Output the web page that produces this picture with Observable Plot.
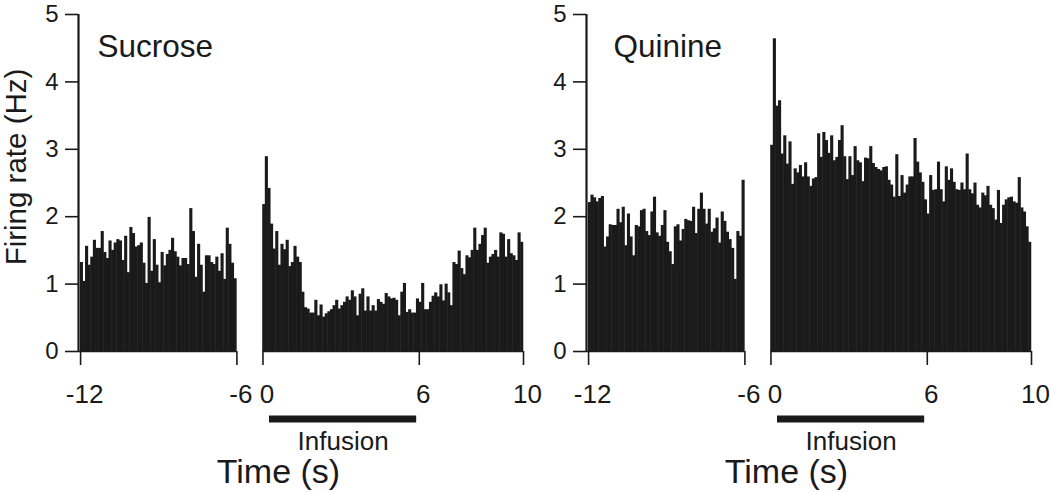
<!DOCTYPE html>
<html><head><meta charset="utf-8">
<script src="https://cdn.jsdelivr.net/npm/d3@7"></script>
<script src="https://cdn.jsdelivr.net/npm/@observablehq/plot@0.6"></script>
<style>
html,body{margin:0;padding:0;background:#fff;}
#wrap{position:relative;width:1050px;height:493px;overflow:hidden;background:#fff;}
#wrap svg{position:absolute;top:0;}
</style></head><body><div id="wrap"></div>
<script>
// ---- data (firing rate in Hz per 0.1 s bin) ----
const binWidth = 0.1;
const preStart = -12;   // pre-infusion window -12 .. -6 s
const postStart = 0;    // post window 0 .. 10 s
const sucrosePre = [
1.32,1.04,1.56,1.28,1.40,1.65,1.53,1.53,1.78,1.47,
1.38,1.64,1.50,1.61,1.66,1.64,1.35,1.71,1.17,1.84,
1.75,1.55,1.57,1.61,1.31,1.01,1.99,1.19,1.66,1.28,
1.02,1.47,1.27,1.44,1.50,1.68,1.48,1.40,1.27,1.38,
1.38,1.29,2.12,1.78,1.10,1.59,1.28,0.88,1.42,1.42,
1.32,1.29,1.40,1.19,1.45,1.07,1.83,1.59,1.31,1.08];
const sucrosePost = [
2.18,2.89,2.42,1.89,1.52,1.78,1.28,1.59,1.51,1.65,
1.26,1.32,1.56,1.40,1.32,0.88,0.65,0.63,0.57,0.57,
0.76,0.53,0.69,0.51,0.56,0.59,0.62,0.68,0.76,0.63,
0.68,0.73,0.81,0.76,0.90,0.81,0.53,0.85,0.93,0.60,
0.81,0.60,0.68,0.60,0.77,0.73,0.70,0.86,0.81,0.78,
0.79,0.76,0.53,0.88,1.01,0.58,0.62,0.57,0.57,0.78,
0.73,1.01,0.62,0.62,0.73,0.82,0.87,0.81,0.99,0.75,
1.00,0.87,0.68,1.32,1.29,1.49,1.23,1.14,1.42,1.39,
1.50,1.83,1.50,1.59,1.72,1.83,1.31,1.40,1.44,1.50,
1.40,1.76,1.74,1.40,1.66,1.45,1.42,1.35,1.76,1.62];
const quininePre = [
2.21,2.32,2.28,2.22,2.27,2.30,1.55,1.70,1.88,1.87,
1.87,2.11,1.91,2.14,1.57,2.04,1.70,1.42,1.87,1.85,
2.09,2.11,1.78,1.72,2.07,2.29,1.76,1.71,1.87,2.09,
1.62,1.48,1.29,1.85,1.88,1.64,1.81,1.96,1.94,1.93,
2.14,1.75,2.11,2.35,2.11,1.89,2.11,1.77,1.82,1.98,
1.61,2.07,1.93,1.77,1.66,1.53,1.07,1.78,1.71,2.54];
const quininePost = [
3.06,4.64,3.64,3.72,2.93,3.20,2.78,3.11,2.48,2.71,
2.65,2.76,2.59,2.80,2.59,2.45,2.56,2.58,3.23,2.88,
3.25,3.13,2.94,3.20,2.83,2.88,3.13,3.35,2.89,2.55,
2.89,2.61,3.04,2.83,2.80,2.52,2.87,2.86,3.04,2.79,
2.73,2.70,2.68,2.73,2.74,2.54,2.47,2.29,2.92,2.30,
2.61,2.35,2.47,2.59,2.59,3.16,2.81,2.65,2.51,2.25,
2.04,2.61,2.39,2.40,2.81,2.40,2.22,2.74,2.54,2.71,
2.51,2.40,2.39,2.50,2.40,2.93,2.40,2.34,2.50,2.17,
2.13,2.35,2.31,2.45,2.17,2.12,1.95,2.39,1.90,2.17,
2.25,2.28,2.29,2.22,2.20,2.58,2.13,2.07,1.85,1.62];
const panelLabels = ["Sucrose", "Quinine"];
const xTickTimes = [-12, -6, 0, 6, 10];
const yTickValues = [0, 1, 2, 3, 4, 5];
const infusion = [0.25, 5.9];
const infusionLabel = "Infusion";
const xTitle = "Time (s)";
const yTitle = "Firing rate (Hz)";

// broken time axis: the -12..-6 window is shifted right so the gap -6..0 is drawn as 1 s
const gapShift = 5;
const toU = t => (t <= -6 + 1e-9 ? t + gapShift : t);
const fromU = u => (u < -0.5 ? u - gapShift : u);
const ink = "#1a1a1a";
const font = "'Liberation Sans', Arial, Helvetica, sans-serif";

function panel(label, labelDx, pre, post, showYTitle) {
  const rows = [];
  pre.forEach((v, i) => { const t = preStart + i * binWidth; rows.push({x1: toU(t), x2: toU(t) + binWidth, y: v}); });
  post.forEach((v, i) => { const t = postStart + i * binWidth; rows.push({x1: t, x2: t + binWidth, y: v}); });
  const xMin = toU(preStart) - 0.08;
  const segments = [
    {x1: xMin, x2: toU(preStart + pre.length * binWidth)},
    {x1: postStart, x2: postStart + post.length * binWidth}
  ];
  const xTicks = xTickTimes.map(toU);
  const marks = [
    Plot.rectY(rows, {x1: "x1", x2: "x2", y: "y", fill: ink, insetLeft: -0.25, insetRight: -0.25}),
    Plot.ruleY(segments, {x1: "x1", x2: "x2", y: 0, stroke: ink, strokeWidth: 1.6}),
    Plot.ruleX([xMin], {y1: 0, y2: 5, stroke: ink, strokeWidth: 2.2}),
    Plot.axisY({ticks: yTickValues, tickFormat: d => String(d), tickSize: 13, tickPadding: 7, fontSize: 24, stroke: ink, strokeWidth: 1.6, fill: ink, label: null}),
    Plot.axisX({ticks: xTicks, tickFormat: () => "", tickSize: 14, stroke: ink, strokeWidth: 1.6, label: null}),
    Plot.axisX({ticks: xTicks, tickFormat: u => String(Math.round(fromU(u))), tickSize: 0, tickPadding: 33, dx: 4, fontSize: 26, stroke: "none", fill: ink, label: null}),
    Plot.ruleY([0], {x1: infusion[0], x2: infusion[1], dy: 67.5, stroke: ink, strokeWidth: 7}),
    Plot.text([infusionLabel], {text: d => d, x: (infusion[0] + infusion[1]) / 2, y: 0, dy: 90, fontSize: 26, fill: ink, lineAnchor: "middle"}),
    Plot.text([label], {text: d => d, frameAnchor: "top-left", dx: labelDx, dy: 32, fontSize: 31.5, fill: ink, textAnchor: "start", lineAnchor: "middle"}),
    Plot.text([xTitle], {text: d => d, frameAnchor: "bottom-left", dx: 200, dy: 121, fontSize: 34, fill: ink, textAnchor: "middle", lineAnchor: "middle"})
  ];
  if (showYTitle) marks.push(Plot.text([yTitle], {text: d => d, frameAnchor: "left", rotate: -90, dx: -62, dy: -16, fontSize: 29.5, fill: ink, textAnchor: "middle", lineAnchor: "middle"}));
  return Plot.plot({
    width: 545, height: 493,
    marginLeft: 78, marginRight: 22, marginTop: 14, marginBottom: 142,
    x: {domain: [xMin, 10]},
    y: {domain: [0, 5]},
    style: {background: "transparent", fontFamily: font, color: ink, overflow: "visible"},
    marks
  });
}

const wrap = document.getElementById("wrap");
const a = panel(panelLabels[0], 19, sucrosePre, sucrosePost, true);
a.style.left = "0px";
const b = panel(panelLabels[1], 27, quininePre, quininePost, false);
b.style.left = "508px";
wrap.appendChild(a);
wrap.appendChild(b);
</script></body></html>
